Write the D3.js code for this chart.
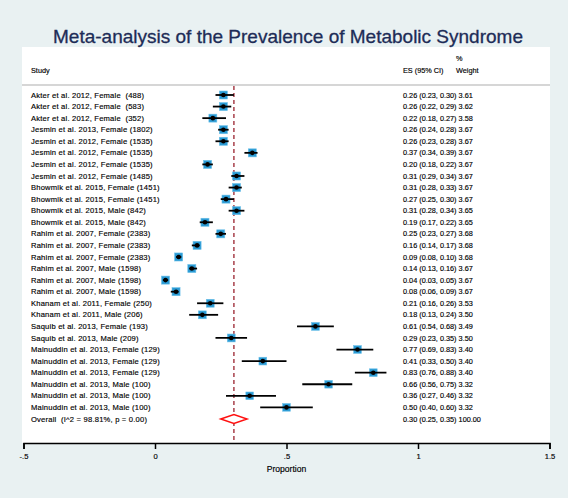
<!DOCTYPE html>
<html><head><meta charset="utf-8">
<script src="https://cdn.jsdelivr.net/npm/d3@7"></script>
<style>
html,body{margin:0;padding:0;background:#e9f1f2;}
svg{display:block;font-family:"Liberation Sans",Arial,Helvetica,sans-serif;}
svg text{white-space:pre;}
</style></head>
<body><svg id="chart" width="568" height="498"></svg>
<script>
const studies = [
 "Akter et al. 2012, Female  (488)",
 "Akter et al. 2012, Female  (583)",
 "Akter et al. 2012, Female  (352)",
 "Jesmin et al. 2013, Female (1802)",
 "Jesmin et al. 2012, Female (1535)",
 "Jesmin et al. 2012, Female (1535)",
 "Jesmin et al. 2012, Female (1535)",
 "Jesmin et al. 2012, Female (1485)",
 "Bhowmik et al. 2015, Female (1451)",
 "Bhowmik et al. 2015, Female (1451)",
 "Bhowmik et al. 2015, Male (842)",
 "Bhowmik et al. 2015, Male (842)",
 "Rahim et al. 2007, Female (2383)",
 "Rahim et al. 2007, Female (2383)",
 "Rahim et al. 2007, Female (2383)",
 "Rahim et al. 2007, Male (1598)",
 "Rahim et al. 2007, Male (1598)",
 "Rahim et al. 2007, Male (1598)",
 "Khanam et al. 2011, Female (250)",
 "Khanam et al. 2011, Male (206)",
 "Saquib et al. 2013, Female (193)",
 "Saquib et al. 2013, Male (209)",
 "Mainuddin et al. 2013, Female (129)",
 "Mainuddin et al. 2013, Female (129)",
 "Mainuddin et al. 2013, Female (129)",
 "Mainuddin et al. 2013, Male (100)",
 "Mainuddin et al. 2013, Male (100)",
 "Mainuddin et al. 2013, Male (100)"
];
const es    = [0.26,0.26,0.22,0.26,0.26,0.37,0.20,0.31,0.31,0.27,0.31,0.19,0.25,0.16,0.09,0.14,0.04,0.08,0.21,0.18,0.61,0.29,0.77,0.41,0.83,0.66,0.36,0.50];
const lower = [0.23,0.22,0.18,0.24,0.23,0.34,0.18,0.29,0.28,0.25,0.28,0.17,0.23,0.14,0.08,0.13,0.03,0.06,0.16,0.13,0.54,0.23,0.69,0.33,0.76,0.56,0.27,0.40];
const upper = [0.30,0.29,0.27,0.28,0.28,0.39,0.22,0.34,0.33,0.30,0.34,0.22,0.27,0.17,0.10,0.16,0.05,0.09,0.26,0.24,0.68,0.35,0.83,0.50,0.88,0.75,0.46,0.60];
const weight= [3.61,3.62,3.58,3.67,3.67,3.67,3.67,3.67,3.67,3.67,3.65,3.65,3.68,3.68,3.68,3.67,3.67,3.67,3.53,3.50,3.49,3.50,3.40,3.40,3.40,3.32,3.32,3.32];
const overallLabel = "Overall  (I^2 = 98.81%, p = 0.00)";
const overall = {es:0.30, lower:0.25, upper:0.35, weight:100.00};
const tickValues = [-0.5, 0, 0.5, 1, 1.5];
const tickLabels = ["-.5", "0", ".5", "1", "1.5"];
const title = "Meta-analysis of the Prevalence of Metabolic Syndrome";
const xLabel = "Proportion";

const svg = d3.select("#chart");
const panel = {x0:22, x1:550, y0:47, y1:443};
svg.append("rect").attr("x",0).attr("y",0).attr("width",568).attr("height",498).attr("fill","#e9f1f2");
svg.append("rect").attr("x",panel.x0).attr("y",panel.y0).attr("width",panel.x1-panel.x0).attr("height",panel.y1-panel.y0).attr("fill","#ffffff");

svg.append("text").attr("x",288).attr("y",43).attr("text-anchor","middle")
  .attr("font-size",19).attr("fill","#1d2c57").attr("stroke","#1d2c57").attr("stroke-width",0.3).text(title);

const x = d3.scaleLinear().domain([-0.5,1.5]).range([23.5,549.5]);
const n = studies.length;
const y = d3.scaleLinear().domain([0,n]).range([95, 95 + n*11.57]);

const fsL = 7.6, fsE = 7.3;
const txt = (g, xx, yy, s, size) => g.append("text").attr("x",xx).attr("y",yy)
  .attr("xml:space","preserve")
  .attr("font-size",size).attr("fill","#000").attr("stroke","#000").attr("stroke-width",0.15).text(s);

const hdr = svg.append("g");
txt(hdr,31,73,"Study",fsE);
txt(hdr,403,73,"ES (95% CI)",fsE);
txt(hdr,456,61,"%",fsE);
txt(hdr,456,73,"Weight",fsE);

svg.append("line").attr("x1",panel.x0).attr("x2",panel.x1).attr("y1",85).attr("y2",85)
  .attr("stroke","#c9c9c9").attr("stroke-width",1.5);

svg.append("line").attr("x1",x(overall.es)).attr("x2",x(overall.es)).attr("y1",86).attr("y2",panel.y1)
  .attr("stroke","#a8404a").attr("stroke-width",1.5).attr("stroke-dasharray","4,3");

const f2 = d3.format(".2f");
const rows = svg.append("g");
studies.forEach((s,i)=>{
  const yy = y(i);
  txt(rows,31,yy+2.6,s,fsL).attr("letter-spacing",0.2);
  txt(rows,403,yy+2.6,`${f2(es[i])} (${f2(lower[i])}, ${f2(upper[i])}) ${f2(weight[i])}`,fsE);
  const side = 2.1*Math.sqrt(weight[i])*2;
  rows.append("rect").attr("x",x(es[i])-side/2).attr("y",yy-side/2).attr("width",side).attr("height",side)
    .attr("fill","#2a9ad4").attr("stroke","#6cc0e8").attr("stroke-width",0.6);
  rows.append("line").attr("x1",x(lower[i])).attr("x2",x(upper[i])).attr("y1",yy).attr("y2",yy)
    .attr("stroke","#000").attr("stroke-width",1.8);
  rows.append("circle").attr("cx",x(es[i])).attr("cy",yy).attr("r",2.3).attr("fill","#000");
});

const yo = y(n);
txt(rows,31,yo+2.6,overallLabel,fsL).attr("letter-spacing",0.2);
txt(rows,403,yo+2.6,`${f2(overall.es)} (${f2(overall.lower)}, ${f2(overall.upper)}) ${f2(overall.weight)}`,fsE);
rows.append("path")
  .attr("d",`M${x(overall.lower)},${yo}L${x(overall.es)},${yo-4.5}L${x(overall.upper)},${yo}L${x(overall.es)},${yo+4.5}Z`)
  .attr("fill","#fff").attr("stroke","#ff1010").attr("stroke-width",1.5);

const axis = d3.axisBottom(x).tickValues(tickValues).tickSize(6).tickPadding(5)
  .tickFormat((d,i)=>tickLabels[i]);
const ag = svg.append("g").attr("transform",`translate(0,${panel.y1})`).call(axis);
ag.select(".domain").attr("stroke","#000").attr("stroke-width",1.5);
ag.selectAll(".tick line").attr("stroke","#000").attr("stroke-width",1.5);
ag.selectAll(".tick text").attr("font-size",7.6).attr("font-family","Liberation Sans,Arial,sans-serif")
  .attr("fill","#000").attr("stroke","#000").attr("stroke-width",0.15);

svg.append("text").attr("x",x(0.5)).attr("y",472).attr("text-anchor","middle")
  .attr("font-size",8.6).attr("fill","#000").attr("stroke","#000").attr("stroke-width",0.15).text(xLabel);
</script></body></html>
